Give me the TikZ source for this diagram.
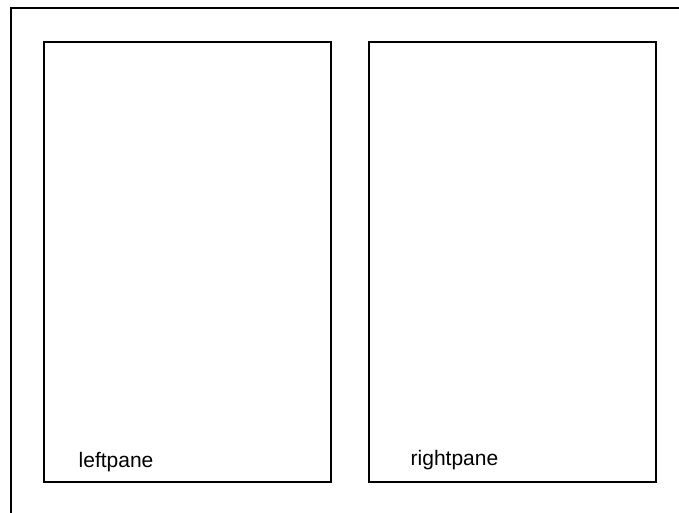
\documentclass[tikz,border=0pt]{standalone}
\usepackage{fontspec}
\setmainfont{Liberation Sans}
\usepackage{tikz}
\usetikzlibrary{calc}

\begin{document}
\begin{tikzpicture}[x=1pt,y=-1pt,line width=1.4pt,
  pane/.style={draw,minimum width=287pt,minimum height=440pt,inner sep=0pt},
  panelabel/.style={anchor=base west,inner sep=0pt,font=\fontsize{21}{21}\selectfont}]
  \useasboundingbox (0,0) rectangle (679,513);
  % outer frame
  \draw (11,513) -- (11,8) -- (679,8);
  % the two panes
  \node[pane] (leftpane) at (187.5,262) {};
  \node[pane] (rightpane) at (512.5,262) {};
  \node[panelabel] (leftlabel) at (78,467) {leftpane};
  \node[panelabel] (rightlabel) at (410,465) {rightpane};
\end{tikzpicture}
\end{document}
